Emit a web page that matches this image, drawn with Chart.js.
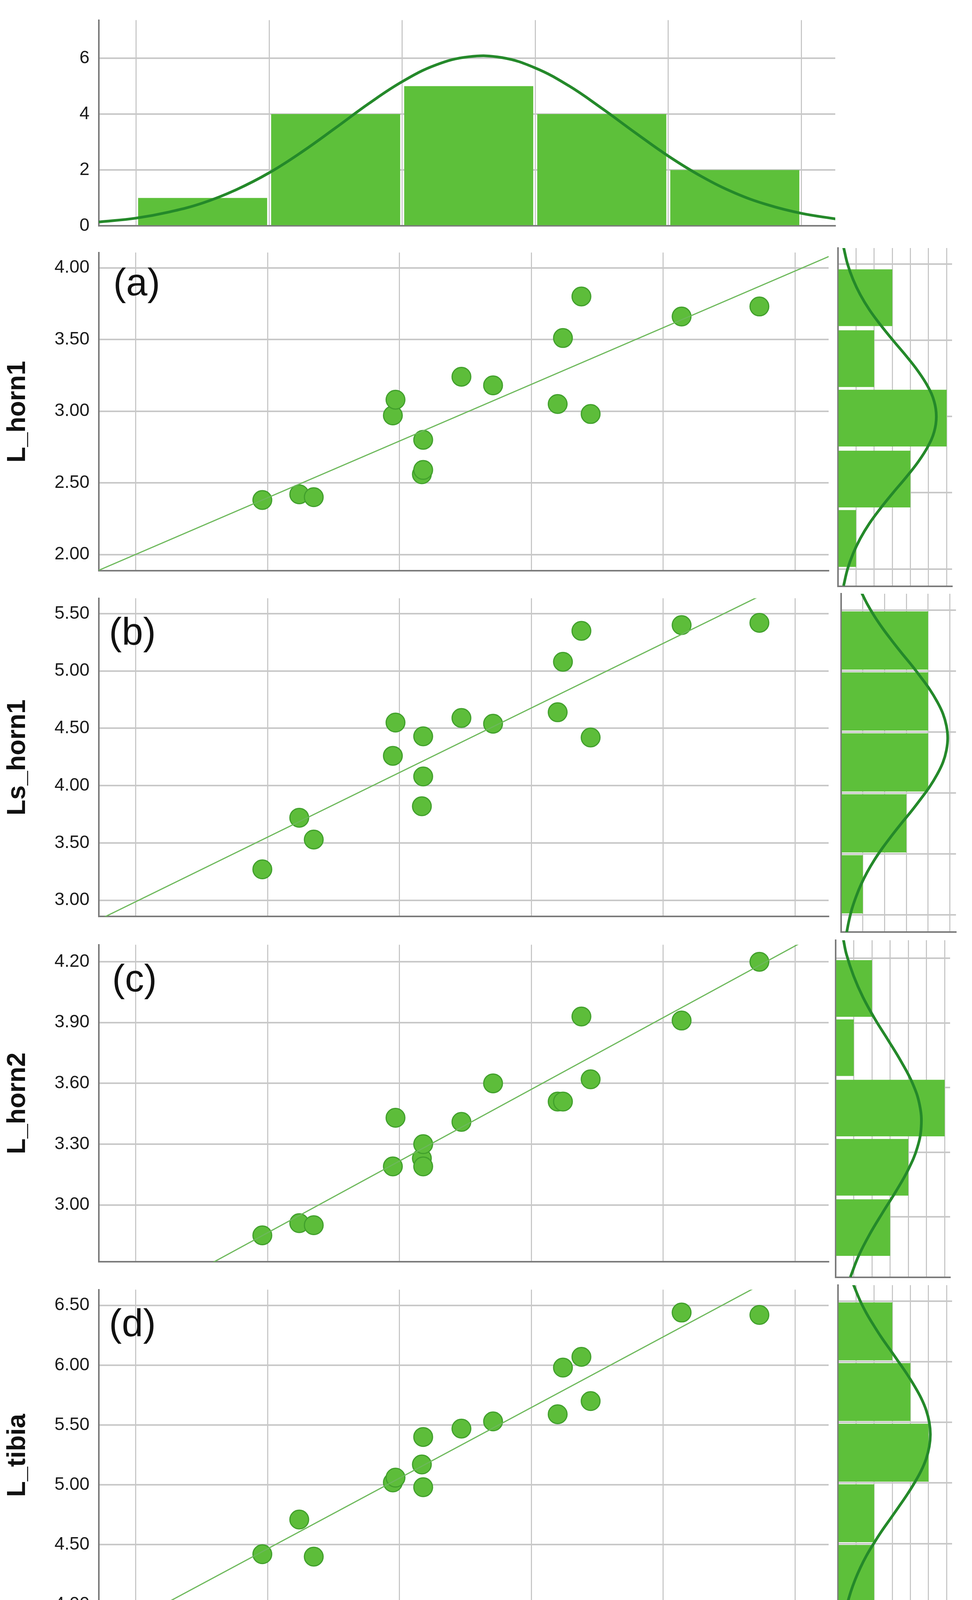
<!DOCTYPE html>
<html>
<head>
<meta charset="utf-8">
<style>
  body { margin: 0; background: #fff; }
  #page { position: relative; width: 2488px; height: 4372px; background: #fff; overflow: hidden;
          font-family: 'Liberation Sans', Arial, sans-serif; }
  canvas { position: absolute; }
  .tag { position: absolute; font-size: 98px; line-height: 1; color: #111; }
  #xtitle { position: absolute; left: 932px; top: 4275px; width: 600px; text-align: center;
            font-size: 70px; line-height: 1; font-weight: bold; color: #111; }
</style>
</head>
<body>
<div id="page">
  <canvas id="histTop"></canvas>
  <canvas id="panelA"></canvas><canvas id="sideA"></canvas>
  <canvas id="panelB"></canvas><canvas id="sideB"></canvas>
  <canvas id="panelC"></canvas><canvas id="sideC"></canvas>
  <canvas id="panelD"></canvas><canvas id="sideD"></canvas>
  <div class="tag" style="left:290px;top:673px">(a)</div>
  <div class="tag" style="left:279px;top:1567px">(b)</div>
  <div class="tag" style="left:287px;top:2455px">(c)</div>
  <div class="tag" style="left:279px;top:3337px">(d)</div>
  <div id="xtitle">W_pronotum</div>
</div>

<script src="https://cdn.jsdelivr.net/npm/chart.js"></script>
<script>
// x values (W_pronotum), same 16 specimens in every panel
const W_pronotum = [8.96, 9.24, 9.35, 9.95, 9.97, 10.17, 10.18, 10.18, 10.47, 10.71, 11.20, 11.24, 11.38, 11.45, 12.14, 12.73];
const L_horn1  = [2.38, 2.42, 2.40, 2.97, 3.08, 2.56, 2.59, 2.80, 3.24, 3.18, 3.05, 3.51, 3.80, 2.98, 3.66, 3.73];
const Ls_horn1 = [3.27, 3.72, 3.53, 4.26, 4.55, 3.82, 4.08, 4.43, 4.59, 4.54, 4.64, 5.08, 5.35, 4.42, 5.40, 5.42];
const L_horn2  = [2.85, 2.91, 2.90, 3.19, 3.43, 3.23, 3.19, 3.30, 3.41, 3.60, 3.51, 3.51, 3.93, 3.62, 3.91, 4.20];
const L_tibia  = [4.42, 4.71, 4.40, 5.02, 5.06, 5.17, 4.98, 5.40, 5.47, 5.53, 5.59, 5.98, 6.07, 5.70, 6.44, 6.42];

// fit line end points, read at the plot edges
const fitX  = [7.72, 13.26];
const fitA  = [1.89, 4.08];
const fitB  = [2.83, 5.95];
const fitC  = [2.41, 4.37];
const fitD  = [3.71, 6.98];

// top histogram (W_pronotum)
const topBins   = [8.5, 9.5, 10.5, 11.5, 12.5];
const topCounts = [1, 4, 5, 4, 2];
const topCurveX = [7.72, 8.0, 8.25, 8.5, 8.75, 9.0, 9.25, 9.5, 9.75, 10.0, 10.25, 10.5, 10.75, 11.0, 11.25, 11.5, 11.75, 12.0, 12.25, 12.5, 12.75, 13.0, 13.26];
const topCurveY = [0.14, 0.28, 0.50, 0.82, 1.29, 1.90, 2.66, 3.51, 4.38, 5.16, 5.75, 6.05, 6.02, 5.65, 5.02, 4.21, 3.34, 2.50, 1.77, 1.18, 0.75, 0.45, 0.25];

// side histograms
const binsA = [2.20, 2.59, 2.99, 3.38, 3.78];
const cntA  = [1, 4, 6, 2, 3];
const binsB = [3.25, 3.75, 4.25, 4.75, 5.25];
const cntB  = [1, 3, 4, 4, 4];
const binsC = [2.95, 3.23, 3.505, 3.785, 4.06];
const cntC  = [3, 4, 6, 1, 2];
const binsD = [4.25, 4.75, 5.25, 5.75, 6.25];
const cntD  = [2, 2, 5, 4, 3];

// side normal curves (value, count)
const curveA_y = [1.89, 2.0, 2.1, 2.2, 2.3, 2.4, 2.5, 2.6, 2.7, 2.8, 2.9, 3.0, 3.1, 3.2, 3.3, 3.4, 3.5, 3.6, 3.7, 3.8, 3.9, 4.0, 4.11];
const curveA_n = [0.31, 0.53, 0.83, 1.23, 1.74, 2.36, 3.04, 3.75, 4.41, 4.95, 5.31, 5.43, 5.31, 4.95, 4.41, 3.75, 3.04, 2.36, 1.74, 1.23, 0.83, 0.53, 0.31];
const curveB_y = [2.85, 2.95, 3.05, 3.15, 3.25, 3.35, 3.45, 3.55, 3.65, 3.75, 3.85, 3.95, 4.05, 4.15, 4.25, 4.35, 4.45, 4.55, 4.65, 4.75, 4.85, 4.95, 5.05, 5.15, 5.25, 5.35, 5.45, 5.55, 5.65];
const curveB_n = [0.25, 0.36, 0.50, 0.69, 0.92, 1.20, 1.53, 1.91, 2.33, 2.77, 3.23, 3.66, 4.07, 4.41, 4.68, 4.84, 4.90, 4.84, 4.68, 4.41, 4.07, 3.66, 3.23, 2.77, 2.33, 1.91, 1.53, 1.20, 0.92];
const curveC_y = [2.72, 2.82, 2.92, 3.02, 3.12, 3.22, 3.32, 3.42, 3.52, 3.62, 3.72, 3.82, 3.92, 4.02, 4.12, 4.22, 4.29];
const curveC_n = [0.81, 1.27, 1.88, 2.59, 3.33, 4.00, 4.49, 4.71, 4.62, 4.23, 3.61, 2.89, 2.15, 1.50, 0.98, 0.59, 0.42];
const curveD_y = [3.86, 4.0, 4.1, 4.2, 4.3, 4.4, 4.5, 4.6, 4.7, 4.8, 4.9, 5.0, 5.1, 5.2, 5.3, 5.4, 5.5, 5.6, 5.7, 5.8, 5.9, 6.0, 6.1, 6.2, 6.3, 6.4, 6.5, 6.64];
const curveD_n = [0.31, 0.51, 0.70, 0.94, 1.23, 1.57, 1.97, 2.40, 2.87, 3.34, 3.80, 4.22, 4.59, 4.87, 5.04, 5.10, 5.04, 4.87, 4.59, 4.22, 3.80, 3.34, 2.87, 2.40, 1.97, 1.57, 1.23, 0.84];

const X_MIN = 7.72, X_MAX = 13.255;
const BAR = '#5dc03a', CURVE = '#24892a', PT = '#5dbd3a', PT_EDGE = '#41a02c', FIT = '#6cb85a';
const GRID_H = { color: '#c8c8c8', lineWidth: 4, drawTicks: false, offset: false };
const GRID_V = { color: '#c0c0c0', lineWidth: 2.5, drawTicks: false, offset: false };
const BORDER = { color: '#7b7b7b', width: 4 };
const TICK = { family: "'Liberation Sans', Arial, sans-serif", size: 46 };

Chart.defaults.font.family = "'Liberation Sans', Arial, sans-serif";
Chart.defaults.color = '#1a1a1a';

function place(id, left, top, w, h) {
  const c = document.getElementById(id);
  c.width = w; c.height = h;
  c.style.left = left + 'px'; c.style.top = top + 'px';
  c.style.width = w + 'px'; c.style.height = h + 'px';
  return c;
}
const pts = (xs, ys) => xs.map((x, i) => ({x: x, y: ys[i]}));
const noPlug = { legend: { display: false }, tooltip: { enabled: false } };

// top histogram
new Chart(place('histTop', 0, 0, 2148, 630), {
  type: 'bar',
  data: { datasets: [
    { type: 'line', data: pts(topCurveX, topCurveY), borderColor: CURVE, borderWidth: 7, pointRadius: 0, tension: 0.4, fill: false },
    { type: 'bar', data: pts(topBins, topCounts), backgroundColor: BAR, barPercentage: 0.97, categoryPercentage: 1, borderWidth: 0 }
  ]},
  options: {
    responsive: false, animation: false, plugins: noPlug,
    layout: { padding: { top: 37, right: 10, bottom: 13, left: 0 } },
    scales: {
      x: { type: 'linear', min: X_MIN, max: X_MAX, offset: false, grid: GRID_V, border: BORDER,
           ticks: { display: false, stepSize: 1, includeBounds: false },
           afterFit: s => { s.height = 0; } },
      y: { type: 'linear', min: 0, max: 7.36, grid: GRID_H, border: BORDER,
           ticks: { stepSize: 2, includeBounds: false, padding: 24, font: TICK },
           afterFit: s => { s.width = 253; } }
    }
  }
});

function mainPanel(id, top, bottom, withX, yMin, yMax, yStep, ys, fitY, title) {
  const padTop = 40, xH = withX ? 95 : 0, padBottom = withX ? 5 : 12;
  const c = place(id, 0, top - padTop, 2148, padTop + (bottom - top) + xH + padBottom);
  return new Chart(c, {
    type: 'scatter',
    data: { datasets: [
      { type: 'line', data: pts(fitX, fitY), borderColor: FIT, borderWidth: 3, pointRadius: 0, fill: false },
      { data: pts(W_pronotum, ys), backgroundColor: PT, borderColor: PT_EDGE, borderWidth: 3, pointRadius: 24 }
    ]},
    options: {
      responsive: false, animation: false, plugins: noPlug,
      layout: { padding: { top: padTop, right: 10, bottom: padBottom, left: 0 } },
      scales: {
        x: { type: 'linear', min: X_MIN, max: X_MAX, grid: GRID_V, border: BORDER,
             ticks: { display: withX, stepSize: 1, includeBounds: false, padding: 14, maxRotation: 0,
                      font: TICK, callback: v => v.toFixed(2) },
             afterFit: s => { s.height = xH; } },
        y: { type: 'linear', min: yMin, max: yMax, grid: GRID_H, border: BORDER,
             ticks: { stepSize: yStep, includeBounds: false, padding: 24, font: TICK, callback: v => v.toFixed(2) },
             title: { display: true, text: title, color: '#111', padding: { top: 6, bottom: 0 },
                      font: { size: 66, weight: 'bold' } },
             afterFit: s => { s.width = 253; } }
      }
    }
  });
}

function sidePanel(id, top, bottom, withX, left, right, xMax, yMin, yMax, yStep, bins, counts, cy, cn) {
  const padTop = 40, xH = withX ? 95 : 0, padBottom = withX ? 5 : 12;
  const c = place(id, 2100, top - padTop, 388, padTop + (bottom - top) + xH + padBottom);
  return new Chart(c, {
    type: 'bar',
    data: { datasets: [
      { type: 'line', data: pts(cn, cy), borderColor: CURVE, borderWidth: 7, pointRadius: 0, tension: 0.4, fill: false },
      { type: 'bar', data: pts(counts, bins), backgroundColor: BAR, barPercentage: 0.955, categoryPercentage: 1, borderWidth: 0 }
    ]},
    options: {
      indexAxis: 'y', responsive: false, animation: false, plugins: noPlug,
      layout: { padding: { top: padTop, right: 2488 - right, bottom: padBottom, left: left - 2100 } },
      scales: {
        x: { type: 'linear', min: 0, max: xMax, offset: false, grid: GRID_V, border: BORDER,
             ticks: { display: withX, stepSize: 1, includeBounds: false, padding: 14, maxRotation: 0,
                      autoSkip: false, font: { size: 44 } },
             afterFit: s => { s.height = xH; } },
        y: { type: 'linear', min: yMin, max: yMax, offset: false, grid: GRID_H, border: BORDER,
             ticks: { display: false, stepSize: yStep, includeBounds: false },
             afterFit: s => { s.width = 0; } }
      }
    }
  });
}

mainPanel('panelA', 635, 1501, false, 1.886, 4.106, 0.5, L_horn1, fitA, 'L_horn1');
sidePanel('sideA', 635, 1501, false, 2145, 2437, 6.30, 1.886, 4.106, 0.5, binsA, cntA, curveA_y, curveA_n);

mainPanel('panelB', 1520, 2386, false, 2.858, 5.634, 0.5, Ls_horn1, fitB, 'Ls_horn1');
sidePanel('sideB', 1520, 2386, false, 2153, 2447, 5.28, 2.858, 5.634, 0.5, binsB, cntB, curveB_y, curveB_n);

mainPanel('panelC', 2407, 3270, false, 2.719, 4.284, 0.3, L_horn2, fitC, 'L_horn2');
sidePanel('sideC', 2407, 3270, false, 2139, 2432, 6.30, 2.719, 4.284, 0.3, binsC, cntC, curveC_y, curveC_n);

mainPanel('panelD', 3290, 4150, true, 3.861, 6.631, 0.5, L_tibia, fitD, 'L_tibia');
sidePanel('sideD', 3290, 4150, true, 2145, 2437, 6.30, 3.861, 6.631, 0.5, binsD, cntD, curveD_y, curveD_n);
</script>
</body>
</html>
